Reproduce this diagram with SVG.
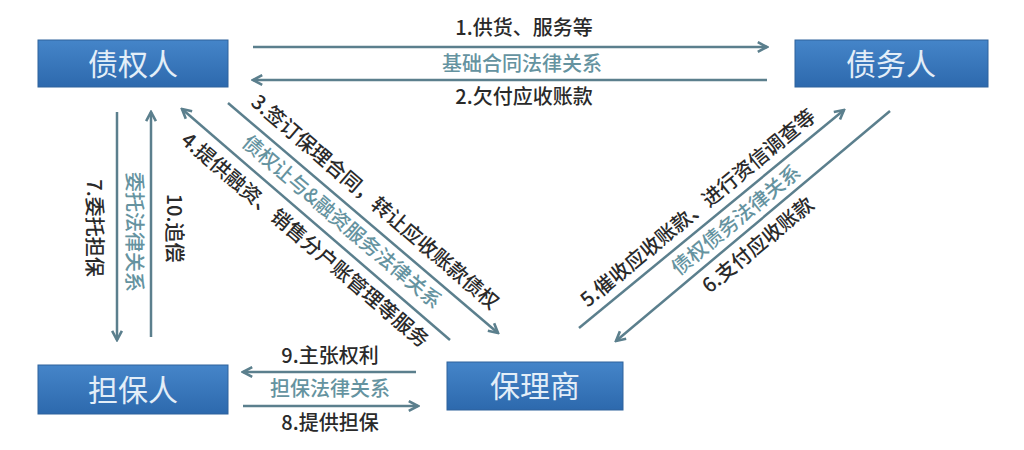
<svg xmlns="http://www.w3.org/2000/svg" width="1024" height="450" viewBox="0 0 1024 450">
  <style>
    .box { fill: url(#bg); stroke: #2f639c; stroke-width: 1; }
    .ntext { font-family: "Noto Sans CJK SC", "Noto Sans", sans-serif; font-size: 30px; fill: #e3eef8; text-anchor: middle; }
    .lbl { font-family: "Noto Sans CJK SC", "Noto Sans", sans-serif; font-size: 20px; font-weight: 500; fill: #2a2a2a; text-anchor: middle; }
    .rel { font-family: "Noto Sans CJK SC", "Noto Sans", sans-serif; font-size: 20px; font-weight: 500; fill: #6593a0; text-anchor: middle; }
    .arr { stroke: #5b7f8d; stroke-width: 2.5; fill: none; marker-end: url(#ah); }
  </style>
  <defs>
    <linearGradient id="bg" x1="0" y1="0" x2="0" y2="1">
      <stop offset="0" stop-color="#4585c9"/>
      <stop offset="1" stop-color="#2d69ad"/>
    </linearGradient>
    <marker id="ah" viewBox="0 0 12 12" refX="10.5" refY="6" markerWidth="13" markerHeight="13" markerUnits="userSpaceOnUse" orient="auto">
      <path d="M2,1.5 L10.5,6 L2,10.5" fill="none" stroke="#5b7f8d" stroke-width="2.4" stroke-linejoin="miter"/>
    </marker>
  </defs>
  <rect width="1024" height="450" fill="#ffffff"/>

  <g id="creditor">
    <rect class="box" x="38" y="40" width="190" height="47"/>
    <text class="ntext" x="133" y="64" dy="0.35em">债权人</text>
  </g>
  <g id="debtor">
    <rect class="box" x="795" y="40" width="193" height="47"/>
    <text class="ntext" x="891" y="64" dy="0.35em">债务人</text>
  </g>
  <g id="guarantor">
    <rect class="box" x="38" y="365" width="190" height="49"/>
    <text class="ntext" x="133" y="390" dy="0.35em">担保人</text>
  </g>
  <g id="factor">
    <rect class="box" x="447" y="362" width="176" height="48"/>
    <text class="ntext" x="535" y="386" dy="0.35em">保理商</text>
  </g>

  <g id="connectors">
    <line class="arr" x1="253" y1="47" x2="767" y2="47"/>
    <line class="arr" x1="767" y1="80" x2="253" y2="80"/>
    <line class="arr" x1="416" y1="372" x2="243" y2="372"/>
    <line class="arr" x1="243" y1="406" x2="418" y2="406"/>
    <line class="arr" x1="117" y1="112" x2="117" y2="340"/>
    <line class="arr" x1="151" y1="337" x2="151" y2="112"/>
    <line class="arr" x1="228" y1="103" x2="498" y2="333"/>
    <line class="arr" x1="450" y1="340" x2="182" y2="109"/>
    <line class="arr" x1="579" y1="328" x2="844" y2="110"/>
    <line class="arr" x1="890" y1="111" x2="616" y2="341"/>
  </g>

  <g id="labels">
    <text class="lbl" x="524" y="28" dy="0.35em">1.供货、服务等</text>
    <text class="rel" x="522" y="64" dy="0.35em">基础合同法律关系</text>
    <text class="lbl" x="524" y="97" dy="0.35em">2.欠付应收账款</text>

    <text class="lbl" x="330" y="356" dy="0.35em">9.主张权利</text>
    <text class="rel" x="330" y="389" dy="0.35em">担保法律关系</text>
    <text class="lbl" x="330" y="423" dy="0.35em">8.提供担保</text>

    <text class="lbl" transform="translate(94,228) rotate(90)" dy="0.35em">7.委托担保</text>
    <text class="rel" transform="translate(134,232) rotate(90)" dy="0.35em">委托法律关系</text>
    <text class="lbl" transform="translate(174,228) rotate(90)" dy="0.35em">10.追偿</text>

    <text class="lbl" transform="translate(375,202) rotate(40.5)" dy="0.35em">3.签订保理合同，转让应收账款债权</text>
    <text class="rel" transform="translate(342,222) rotate(40.5)" dy="0.35em">债权让与&amp;融资服务法律关系</text>
    <text class="lbl" transform="translate(305,240) rotate(40.5)" dy="0.35em">4.提供融资、销售分户账管理等服务</text>

    <text class="lbl" transform="translate(698,208) rotate(-39.5)" dy="0.35em">5.催收应收账款、进行资信调查等</text>
    <text class="rel" transform="translate(736,220) rotate(-39.5)" dy="0.35em">债权债务法律关系</text>
    <text class="lbl" transform="translate(758,245) rotate(-39.5)" dy="0.35em">6.支付应收账款</text>
  </g>
</svg>
